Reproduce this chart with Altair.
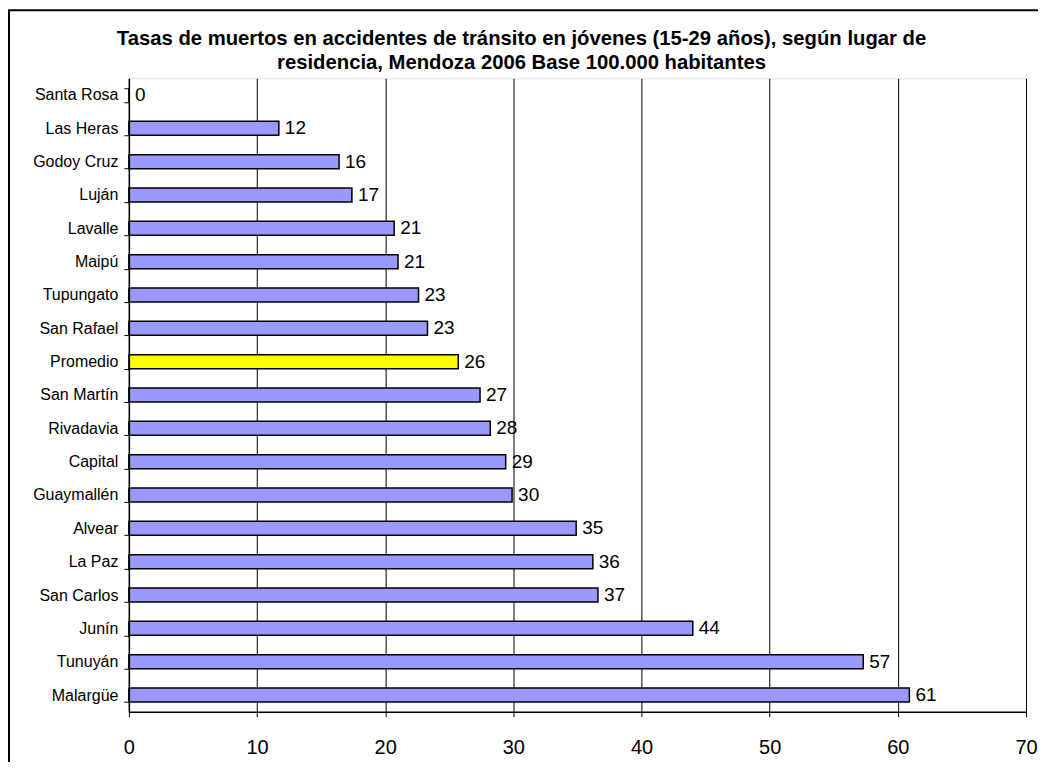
import altair as alt
import pandas as pd

categories = ["Santa Rosa", "Las Heras", "Godoy Cruz", "Luján", "Lavalle", "Maipú",
              "Tupungato", "San Rafael", "Promedio", "San Martín", "Rivadavia", "Capital",
              "Guaymallén", "Alvear", "La Paz", "San Carlos", "Junín", "Tunuyán", "Malargüe"]
values = [0, 11.7, 16.4, 17.4, 20.7, 21.0, 22.6, 23.3, 25.7, 27.4, 28.2, 29.4,
          29.9, 34.9, 36.2, 36.6, 44.0, 57.3, 60.9]
highlight = ["no"] * 8 + ["yes"] + ["no"] * 10

df = pd.DataFrame({"lugar": categories, "tasa": values, "grupo": highlight})

W, H = 898, 634
FONT = "Liberation Sans"

y_enc = alt.Y("lugar:N", sort=categories, title=None,
              scale=alt.Scale(paddingInner=0.58, paddingOuter=0.29),
              axis=alt.Axis(tickBand="extent", domainColor="black", tickColor="black",
                            tickSize=5, labelFontSize=16, labelColor="black",
                            labelFont=FONT, labelPadding=6, domainWidth=1.5, zindex=1))
x_enc = alt.X("tasa:Q", title=None,
              scale=alt.Scale(domain=[0, 70], nice=False),
              axis=alt.Axis(values=list(range(0, 80, 10)), grid=True, gridColor="black",
                            gridWidth=1, domainColor="black", tickColor="black",
                            tickSize=5, labelFontSize=20, labelColor="black",
                            labelFont=FONT, labelPadding=21, domainWidth=1.5,
                            labelFlush=False, labelOverlap=False))

base = alt.Chart(df)

frame = base.mark_rect(fill="transparent", stroke="black", strokeWidth=2).encode(
    x=alt.value(-120), x2=alt.value(940), y=alt.value(-68), y2=alt.value(720)
).transform_filter(alt.datum.lugar == "Santa Rosa")

bars = base.mark_bar(stroke="black", strokeWidth=1.5).encode(
    x=x_enc, y=y_enc,
    color=alt.Color("grupo:N", scale=alt.Scale(domain=["no", "yes"], range=["#9999FF", "#FFFF00"]),
                    legend=None),
)

labels = base.mark_text(align="left", baseline="middle", dx=6, fontSize=19, font=FONT,
                        color="black").encode(
    x="tasa:Q", y=alt.Y("lugar:N", sort=categories),
    text=alt.Text("tasa:Q", format=".0f"),
)

chart = alt.layer(frame, bars, labels).properties(
    width=W, height=H,
    title=alt.TitleParams(
        ["Tasas de muertos en accidentes de tránsito en jóvenes (15-29 años), según lugar de",
         "residencia, Mendoza 2006 Base 100.000 habitantes"],
        fontSize=20.3, font=FONT, fontWeight="bold", color="black", anchor="middle",
        frame="group", dx=-56, offset=0, dy=64, lineHeight=24),
    autosize=alt.AutoSizeParams(type="none"),
    padding={"left": 121, "top": 70, "right": 12, "bottom": 50},
).configure_view(stroke="#808080", strokeWidth=1.5).configure(background="white")

chart.save("out.html", embed_options={"renderer": "svg", "actions": False})
